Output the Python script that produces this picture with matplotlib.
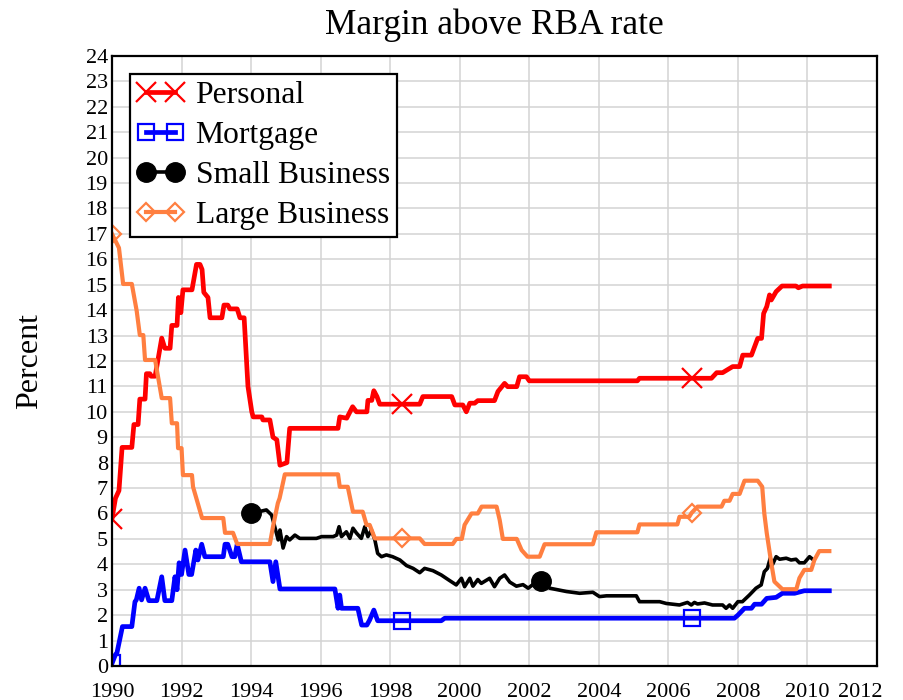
import numpy as np
import matplotlib
matplotlib.use("Agg")
import matplotlib.pyplot as plt
from matplotlib.transforms import ScaledTranslation

plt.rcParams['font.family'] = ['Liberation Serif', 'DejaVu Serif']

# Margin above RBA cash rate (percent)
personal_years = [1990.0, 1990.1, 1990.2, 1990.29, 1990.57, 1990.63, 1990.75, 1990.8, 1990.95, 1990.99,
                  1991.09, 1991.12, 1991.24, 1991.43, 1991.52, 1991.67, 1991.72, 1991.87, 1991.91, 1991.98,
                  1992.04, 1992.3, 1992.43, 1992.53, 1992.59, 1992.64, 1992.76, 1992.82, 1993.16, 1993.22,
                  1993.33, 1993.39, 1993.6, 1993.68, 1993.8, 1993.91, 1994.02, 1994.06, 1994.31, 1994.34,
                  1994.54, 1994.63, 1994.74, 1994.83, 1995.03, 1995.11, 1996.5, 1996.55, 1996.75, 1996.92,
                  1997.03, 1997.33, 1997.36, 1997.47, 1997.53, 1997.62, 1997.7, 1998.333, 1998.85, 1998.94,
                  1999.77, 1999.86, 2000.09, 2000.19, 2000.29, 2000.43, 2000.52, 2001.0, 2001.1, 2001.29,
                  2001.38, 2001.64, 2001.72, 2001.92, 2002.0, 2005.11, 2005.17, 2006.667, 2007.24, 2007.39,
                  2007.56, 2007.68, 2007.85, 2008.05, 2008.14, 2008.39, 2008.57, 2008.68, 2008.74, 2008.83,
                  2008.91, 2008.96, 2009.1, 2009.27, 2009.67, 2009.74, 2009.86, 2010.63]
personal = [5.8, 6.6, 6.9, 8.6, 8.6, 9.5, 9.5, 10.5, 10.5, 11.5,
            11.5, 11.4, 11.4, 12.9, 12.5, 12.5, 13.4, 13.4, 14.5, 13.9,
            14.8, 14.8, 15.8, 15.8, 15.6, 14.7, 14.5, 13.7, 13.7, 14.2,
            14.2, 14.05, 14.05, 13.7, 13.7, 11.0, 10.0, 9.8, 9.8, 9.68,
            9.68, 9.0, 8.9, 7.9, 8.0, 9.35, 9.35, 9.8, 9.75, 10.2,
            10.0, 10.0, 10.45, 10.45, 10.83, 10.6, 10.3, 10.3, 10.3, 10.6,
            10.6, 10.27, 10.27, 10.0, 10.34, 10.34, 10.44, 10.44, 10.8, 11.12,
            10.99, 10.99, 11.38, 11.38, 11.22, 11.22, 11.32, 11.32, 11.32, 11.54,
            11.54, 11.64, 11.78, 11.78, 12.23, 12.23, 12.89, 12.89, 13.87, 14.14,
            14.6, 14.4, 14.73, 14.95, 14.95, 14.88, 14.95, 14.95]

mortgage_years = [1990.0, 1990.1, 1990.14, 1990.3, 1990.57, 1990.66, 1990.7, 1990.78, 1990.85, 1990.95,
                  1991.06, 1991.29, 1991.43, 1991.52, 1991.72, 1991.81, 1991.87, 1991.93, 1992.0, 1992.1,
                  1992.21, 1992.29, 1992.41, 1992.47, 1992.58, 1992.67, 1993.2, 1993.25, 1993.33, 1993.45,
                  1993.53, 1993.6, 1993.72, 1994.54, 1994.63, 1994.71, 1994.83, 1996.41, 1996.5, 1996.55,
                  1996.6, 1997.07, 1997.18, 1997.33, 1997.41, 1997.53, 1997.64, 1998.333, 1999.47, 1999.57,
                  2006.667, 2007.9, 2008.0, 2008.19, 2008.39, 2008.48, 2008.68, 2008.83, 2009.1, 2009.28,
                  2009.63, 2009.91, 2010.63]
mortgage = [0.1, 0.45, 0.5, 1.55, 1.55, 2.53, 2.6, 3.06, 2.6, 3.06,
            2.57, 2.57, 3.51, 2.57, 2.57, 3.51, 3.0, 4.06, 3.6, 4.56,
            3.6, 3.6, 4.56, 4.17, 4.79, 4.3, 4.3, 4.79, 4.79, 4.3,
            4.3, 4.79, 4.1, 4.1, 3.32, 4.1, 3.03, 3.03, 2.27, 2.79,
            2.27, 2.27, 1.61, 1.61, 1.81, 2.2, 1.78, 1.78, 1.78, 1.88,
            1.88, 1.88, 2.0, 2.27, 2.27, 2.43, 2.43, 2.66, 2.7, 2.86,
            2.86, 2.96, 2.96]

small_years = [1994.0, 1994.44, 1994.59, 1994.68, 1994.78, 1994.83, 1994.92, 1995.02, 1995.11, 1995.26,
               1995.4, 1995.88, 1996.03, 1996.36, 1996.46, 1996.53, 1996.6, 1996.74, 1996.84, 1996.93,
               1997.03, 1997.17, 1997.27, 1997.36, 1997.46, 1997.56, 1997.64, 1997.75, 1997.89, 1998.07,
               1998.28, 1998.47, 1998.66, 1998.85, 1998.99, 1999.23, 1999.47, 1999.71, 1999.9, 2000.05,
               2000.14, 2000.29, 2000.38, 2000.52, 2000.62, 2000.86, 2001.0, 2001.15, 2001.29, 2001.44,
               2001.63, 2001.82, 2001.97, 2002.1, 2002.333, 2002.59, 2003.07, 2003.45, 2003.83, 2004.02,
               2004.22, 2005.08, 2005.17, 2005.75, 2005.94, 2006.32, 2006.55, 2006.66, 2006.75, 2006.84,
               2007.04, 2007.27, 2007.56, 2007.66, 2007.76, 2007.85, 2008.0, 2008.13, 2008.33, 2008.52,
               2008.67, 2008.76, 2008.85, 2008.93, 2009.0, 2009.1, 2009.2, 2009.39, 2009.53, 2009.67,
               2009.77, 2009.91, 2010.06, 2010.15]
small_business = [6.0, 6.14, 5.94, 5.48, 4.96, 5.35, 4.64, 5.09, 4.96, 5.15,
                  5.02, 5.02, 5.09, 5.09, 5.15, 5.48, 5.09, 5.28, 5.02, 5.42,
                  5.23, 5.02, 5.48, 5.09, 5.35, 4.96, 4.43, 4.3, 4.37, 4.3,
                  4.17, 3.95, 3.84, 3.67, 3.84, 3.75, 3.58, 3.36, 3.19, 3.45,
                  3.12, 3.45, 3.14, 3.4, 3.25, 3.45, 3.12, 3.45, 3.58, 3.3,
                  3.14, 3.2, 3.06, 3.2, 3.33, 3.06, 2.93, 2.86, 2.9, 2.73,
                  2.76, 2.76, 2.53, 2.53, 2.46, 2.4, 2.5, 2.4, 2.5, 2.44,
                  2.48, 2.4, 2.4, 2.27, 2.4, 2.27, 2.53, 2.53, 2.79, 3.06,
                  3.19, 3.71, 3.84, 4.24, 4.0, 4.3, 4.2, 4.24, 4.17, 4.2,
                  4.06, 4.06, 4.3, 4.2]

large_years = [1990.0, 1990.2, 1990.32, 1990.57, 1990.71, 1990.8, 1990.9, 1990.95, 1991.24, 1991.43,
               1991.67, 1991.72, 1991.87, 1991.9, 1992.0, 1992.04, 1992.3, 1992.33, 1992.44, 1992.59,
               1993.2, 1993.25, 1993.48, 1993.6, 1994.54, 1994.63, 1994.77, 1994.82, 1994.97, 1996.5,
               1996.55, 1996.78, 1996.93, 1997.21, 1997.32, 1997.41, 1997.56, 1998.333, 1998.85, 1998.99,
               1999.8, 1999.9, 2000.06, 2000.14, 2000.34, 2000.52, 2000.63, 2001.06, 2001.15, 2001.24,
               2001.64, 2001.78, 2001.95, 2002.3, 2002.44, 2003.83, 2003.93, 2005.11, 2005.17, 2006.26,
               2006.32, 2006.6, 2006.667, 2006.84, 2007.53, 2007.61, 2007.76, 2007.85, 2008.05, 2008.19,
               2008.57, 2008.7, 2008.76, 2008.83, 2008.96, 2009.05, 2009.28, 2009.68, 2009.77, 2009.91,
               2010.11, 2010.2, 2010.34, 2010.63]
large_business = [17.0, 16.45, 15.03, 15.03, 13.97, 13.02, 13.02, 12.04, 12.04, 10.54,
                  10.54, 9.55, 9.55, 8.57, 8.57, 7.51, 7.51, 7.05, 6.53, 5.82,
                  5.82, 5.24, 5.24, 4.8, 4.8, 5.48, 6.41, 6.6, 7.54, 7.54,
                  7.05, 7.05, 6.07, 6.07, 5.55, 5.55, 5.02, 5.02, 5.02, 4.8,
                  4.8, 5.0, 5.0, 5.55, 6.0, 6.0, 6.27, 6.27, 5.74, 5.0,
                  5.0, 4.56, 4.3, 4.3, 4.79, 4.79, 5.26, 5.26, 5.57, 5.57,
                  5.87, 5.87, 6.02, 6.27, 6.27, 6.5, 6.5, 6.77, 6.77, 7.29,
                  7.29, 7.05, 6.0, 5.23, 4.05, 3.32, 3.02, 3.02, 3.46, 3.78,
                  3.78, 4.17, 4.52, 4.52]

# markers every 100 months from each series' first point
marks_1990 = [1990.0, 1998.333, 2006.667]
marks_1994 = [1994.0, 2002.333]


def mark_idx(years, marks):
    years = np.asarray(years)
    return [int(np.argmin(abs(years - m))) for m in marks]


fig = plt.figure(figsize=(9.04, 7.0), dpi=100)
ax = fig.add_axes([0.1239, 0.0486, 0.8462, 0.8714])

ax.plot(personal_years, personal, color='#ff0000', lw=3.4, marker='x', ms=14, mew=1.6,
        markevery=mark_idx(personal_years, marks_1990), label='Personal')
ax.plot(mortgage_years, mortgage, color='#0000ff', lw=3.4, marker='s', ms=12, mew=1.6, mfc='none',
        markevery=mark_idx(mortgage_years, marks_1990), label='Mortgage')
ax.plot(small_years, small_business, color='black', lw=2.6, marker='o', ms=14,
        markevery=mark_idx(small_years, marks_1994), label='Small Business')
ax.plot(large_years, large_business, color='#ff7f40', lw=3.0, marker='D', ms=9, mew=1.6, mfc='none',
        markevery=mark_idx(large_years, marks_1990), label='Large Business')

ax.set_xlim(1990, 2012)
ax.set_ylim(0, 24)
ax.set_xticks(np.arange(1990, 2013, 2))
ax.set_yticks(np.arange(0, 25, 1))
ax.grid(True, color='#d3d3d3', lw=1.1)
ax.set_axisbelow(True)
ax.tick_params(length=0, labelsize=16)
ax.tick_params(axis='x', pad=12)
ax.tick_params(axis='y', pad=3)
for s in ax.spines.values():
    s.set_linewidth(1.6)

# last year label sits a little left of its gridline
last = ax.get_xticklabels()[-1]
last.set_transform(last.get_transform() + ScaledTranslation(-0.17, 0, fig.dpi_scale_trans))

ax.set_title('Margin above RBA rate', fontsize=25.5, pad=16)
ax.set_ylabel('Percent', fontsize=23, labelpad=30)

leg = ax.legend(loc='upper left', bbox_to_anchor=(0.0235, 0.9705), borderaxespad=0,
                fontsize=22.8, numpoints=2, handlelength=1.5, handletextpad=0.35,
                labelspacing=0.34, borderpad=0.22, fancybox=False, framealpha=1,
                edgecolor='black')
leg.get_frame().set_linewidth(1.6)

fig.savefig('out.png', dpi=100)
